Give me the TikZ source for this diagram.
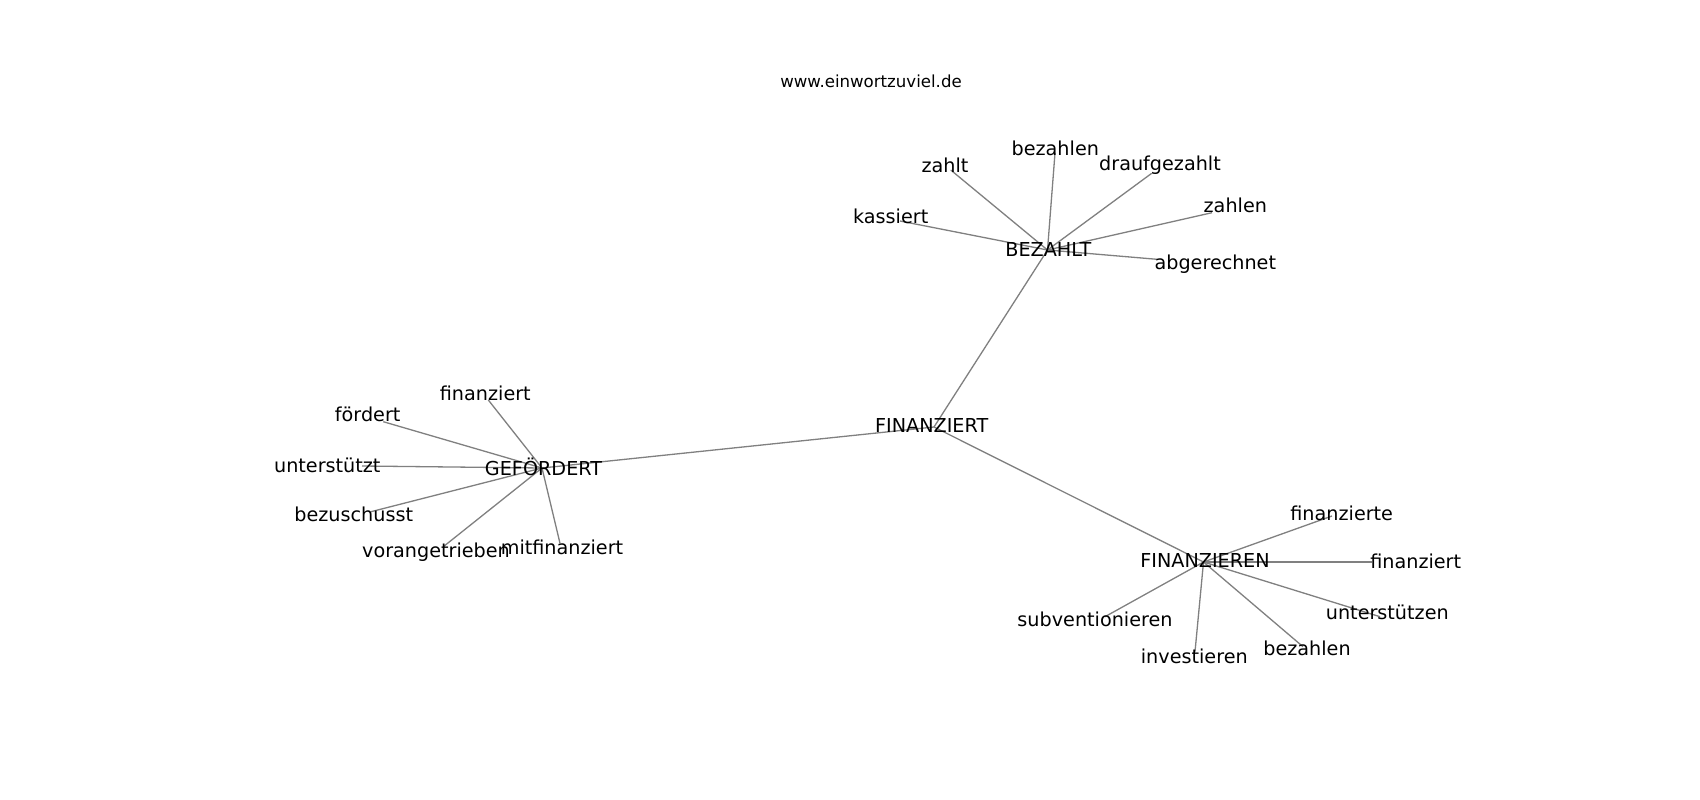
\documentclass[tikz,border=0pt]{standalone}
\usepackage{fontspec}
\setmainfont{DejaVu Sans}
\begin{document}
\begin{tikzpicture}[x=1pt,y=-1pt,
  word/.style={anchor=base,inner sep=0pt,font=\fontsize{19.2}{21}\selectfont,text=black},
  titletext/.style={anchor=base,inner sep=0pt,font=\fontsize{16.6}{18}\selectfont,text=black},
  edge/.style={draw=black!50,line width=1.3pt}]
\useasboundingbox[fill=white] (0,0) rectangle (1700,800);

% connector end points
\coordinate (p-finanziert) at (934,427);
\coordinate (p-bezahlt) at (1047.5,250);
\coordinate (p-gefoerdert) at (542,468);
\coordinate (p-finanzieren) at (1203.5,562);

\coordinate (p-kassiert) at (900,221);
\coordinate (p-zahlt) at (950.7,170);
\coordinate (p-bezahlen1) at (1055,153);
\coordinate (p-draufgezahlt) at (1151.7,173.3);
\coordinate (p-zahlen) at (1212,212.7);
\coordinate (p-abgerechnet) at (1157,259.3);

\coordinate (p-finanziert2) at (488.3,400);
\coordinate (p-foerdert) at (383.3,421.7);
\coordinate (p-unterstuetzt) at (362,466);
\coordinate (p-bezuschusst) at (371,511.7);
\coordinate (p-vorangetrieben) at (443.3,546.7);
\coordinate (p-mitfinanziert) at (560,543.3);

\coordinate (p-finanzierte) at (1332,516);
\coordinate (p-finanziert3) at (1372,562);
\coordinate (p-unterstuetzen) at (1380,616.7);
\coordinate (p-bezahlen2) at (1303,646.7);
\coordinate (p-investieren) at (1195,651.7);
\coordinate (p-subventionieren) at (1105,616.7);

% connectors
\draw[edge] (p-finanziert) -- (p-bezahlt);
\draw[edge] (p-finanziert) -- (p-gefoerdert);
\draw[edge] (p-finanziert) -- (p-finanzieren);
\foreach \n in {kassiert,zahlt,bezahlen1,draufgezahlt,zahlen,abgerechnet}
  \draw[edge] (p-bezahlt) -- (p-\n);
\foreach \n in {finanziert2,foerdert,unterstuetzt,bezuschusst,vorangetrieben,mitfinanziert}
  \draw[edge] (p-gefoerdert) -- (p-\n);
\foreach \n in {finanzierte,finanziert3,unterstuetzen,bezahlen2,investieren,subventionieren}
  \draw[edge] (p-finanzieren) -- (p-\n);

% title
\node[titletext] (title) at (871,88) {www.einwortzuviel.de};

% hub labels
\node[word] (finanziert) at (931.7,432) {FINANZIERT};
\node[word] (bezahlt) at (1048.3,256) {BEZAHLT};
\node[word] (gefoerdert) at (543.5,475.3) {GEFÖRDERT};
\node[word] (finanzieren) at (1205,567.7) {FINANZIEREN};

% BEZAHLT leaves
\node[word] (kassiert) at (890.7,223.5) {kassiert};
\node[word] (zahlt) at (945,172) {zahlt};
\node[word] (bezahlen1) at (1055.3,155.3) {bezahlen};
\node[word] (draufgezahlt) at (1160,170.3) {draufgezahlt};
\node[word] (zahlen) at (1235.3,212) {zahlen};
\node[word] (abgerechnet) at (1215.3,269.5) {abgerechnet};

% GEFOERDERT leaves
\node[word] (finanziert2) at (485.3,400.2) {finanziert};
\node[word] (foerdert) at (367.7,421.8) {fördert};
\node[word] (unterstuetzt) at (327.3,472) {unterstützt};
\node[word] (bezuschusst) at (353.7,521.8) {bezuschusst};
\node[word] (vorangetrieben) at (436,557.5) {vorangetrieben};
\node[word] (mitfinanziert) at (562,554.2) {mitfinanziert};

% FINANZIEREN leaves
\node[word] (finanzierte) at (1341.7,520) {finanzierte};
\node[word] (finanziert3) at (1415.7,568.3) {finanziert};
\node[word] (unterstuetzen) at (1387.3,619.5) {unterstützen};
\node[word] (bezahlen2) at (1307,655.5) {bezahlen};
\node[word] (investieren) at (1194.3,663.3) {investieren};
\node[word] (subventionieren) at (1095,626.7) {subventionieren};
\end{tikzpicture}
\end{document}
